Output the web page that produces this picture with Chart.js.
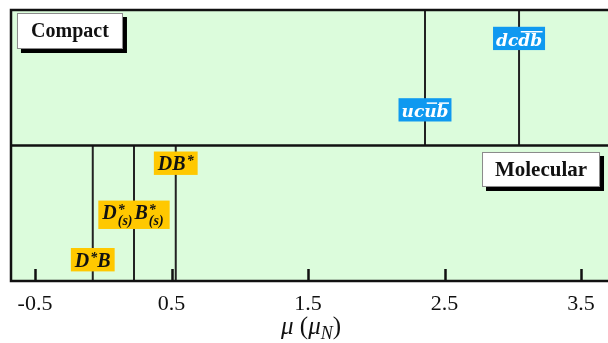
<!DOCTYPE html>
<html lang="en">
<head>
    <meta charset="UTF-8">
    <title>Magnetic moments</title>
    <script src="https://cdn.jsdelivr.net/npm/chart.js"></script>
    <style>
        html, body { margin: 0; padding: 0; overflow: hidden; background: #fff; }
        #wrap { width: 620px; height: 343px; }
    </style>
</head>
<body>
    <div id="wrap"><canvas id="mu-chart" width="620" height="343"></canvas></div>

    <script>
        // values (magnetic moment in nuclear magnetons)
        const tickValues = [-0.5, 0.5, 1.5, 2.5, 3.5];
        const compactMu = [2.357, 3.046];
        const compactNames = ['ucub', 'dcdb'];
        const molecularMu = [-0.077, 0.225, 0.531];
        const molecularNames = ['D*B', 'DsBs', 'DB*'];

        const serif = '"Liberation Serif", "Times New Roman", serif';
        const mathSerif = '"DejaVu Serif", serif';
        const green = '#dcfcdc';
        const blue = '#0f99f0';
        const gold = '#ffc800';

        // tag looks: font, box extents and script offsets in em
        const quarkStyle = { bg: blue, fg: '#fff', family: mathSerif, size: 17, padX: 3,
                             up: 0.75, down: 0.62, base: 0.38, over: 0.84, supUp: 0.42, subDown: 0.32, small: 0.68 };
        const mesonStyle = { bg: gold, fg: '#111', family: serif, size: 20, padX: 4,
                             up: 0.6, down: 0.57, base: 0.33, over: 0.8, supUp: 0.24, subDown: 0.3, small: 0.72 };

        // how each tag is drawn: rich-text pieces and where it sits (y in panel units)
        const tags = {
            'ucub': { y: 1.255, st: quarkStyle,
                      segs: [{ t: 'uc' }, { t: 'u', over: true }, { t: 'b', over: true }] },
            'dcdb': { y: 1.782, st: quarkStyle,
                      segs: [{ t: 'dc' }, { t: 'db', over: true }] },
            'D*B':  { y: 0.155, st: mesonStyle,
                      segs: [{ t: 'D' }, { sup: '*' }, { t: 'B' }] },
            'DsBs': { y: 0.505, st: mesonStyle, sub: true,
                      segs: [{ t: 'D' }, { sup: '*', sub: '(s)' }, { t: 'B' }, { sup: '*', sub: '(s)' }] },
            'DB*':  { y: 0.867, st: mesonStyle,
                      segs: [{ t: 'DB' }, { sup: '*' }] }
        };

        const panels = [
            { text: 'Compact', x: -0.244, y: 1.845, w: 106, h: 36, size: 20 },
            { text: 'Molecular', x: 3.207, y: 0.823, w: 118, h: 35, size: 21 }
        ];

        function segWidth(ctx, s, st) {
            if (s.t !== undefined) {
                ctx.font = `bold italic ${st.size}px ${st.family}`;
                return ctx.measureText(s.t).width;
            }
            ctx.font = `bold italic ${Math.round(st.size * st.small)}px ${st.family}`;
            const a = s.sup ? ctx.measureText(s.sup).width : 0;
            const b = s.sub ? ctx.measureText(s.sub).width : 0;
            return Math.max(a, b) + (s.sub ? 3 : 1);
        }

        function drawTag(ctx, tag, cx, cy) {
            const st = tag.st, size = st.size;
            const widths = tag.segs.map(s => segWidth(ctx, s, st));
            const total = widths.reduce((p, q) => p + q, 0);
            const top = cy - size * st.up;
            const bottom = cy + size * st.down + (tag.sub ? size * 0.25 : 0);
            ctx.fillStyle = st.bg;
            ctx.fillRect(cx - total / 2 - st.padX, top, total + 2 * st.padX, bottom - top);

            const base = cy + size * st.base;
            let x = cx - total / 2;
            ctx.fillStyle = st.fg;
            ctx.strokeStyle = st.fg;
            ctx.textBaseline = 'alphabetic';
            ctx.textAlign = 'left';
            tag.segs.forEach((s, i) => {
                if (s.t !== undefined) {
                    ctx.font = `bold italic ${size}px ${st.family}`;
                    ctx.fillText(s.t, x, base);
                    if (s.over) {
                        ctx.lineWidth = 1.5;
                        ctx.beginPath();
                        ctx.moveTo(x + 2.5, base - size * st.over);
                        ctx.lineTo(x + widths[i] + 0.5, base - size * st.over);
                        ctx.stroke();
                    }
                } else {
                    ctx.font = `bold italic ${Math.round(size * st.small)}px ${st.family}`;
                    if (s.sup) ctx.fillText(s.sup, x + 1, base - size * st.supUp);
                    if (s.sub) ctx.fillText(s.sub, x + 1, base + size * st.subDown);
                }
                x += widths[i];
            });
        }

        const decorations = {
            id: 'decorations',
            beforeDatasetsDraw(chart) {
                const { ctx, chartArea: a } = chart;
                ctx.save();
                ctx.fillStyle = green;
                ctx.fillRect(a.left, a.top, a.right - a.left, a.bottom - a.top);
                ctx.restore();
            },
            afterDatasetsDraw(chart) {
                const { ctx, chartArea: a, scales } = chart;
                const xs = scales.x, ys = scales.y;
                ctx.save();

                // frame and panel divider
                ctx.strokeStyle = '#111';
                ctx.lineWidth = 2.5;
                ctx.beginPath();
                ctx.moveTo(a.right + 5, a.top);
                ctx.lineTo(a.left, a.top);
                ctx.lineTo(a.left, a.bottom);
                ctx.lineTo(a.right + 5, a.bottom);
                const mid = ys.getPixelForValue(1);
                ctx.moveTo(a.left, mid);
                ctx.lineTo(a.right + 5, mid);
                ctx.stroke();

                // inward tick marks along the bottom
                ctx.lineWidth = 2.5;
                ctx.beginPath();
                tickValues.forEach(v => {
                    const px = Math.round(xs.getPixelForValue(v)) + 0.5;
                    ctx.moveTo(px, a.bottom);
                    ctx.lineTo(px, a.bottom - 12);
                });
                ctx.stroke();

                // tags on the lines
                compactMu.forEach((v, i) => {
                    const t = tags[compactNames[i]];
                    drawTag(ctx, t, xs.getPixelForValue(v), ys.getPixelForValue(t.y));
                });
                molecularMu.forEach((v, i) => {
                    const t = tags[molecularNames[i]];
                    drawTag(ctx, t, xs.getPixelForValue(v), ys.getPixelForValue(t.y));
                });

                // panel name boxes with drop shadow
                panels.forEach(p => {
                    const cx = xs.getPixelForValue(p.x), cy = ys.getPixelForValue(p.y);
                    const l = cx - p.w / 2, t = cy - p.h / 2;
                    ctx.fillStyle = '#000';
                    ctx.fillRect(l + 4, t + 4, p.w, p.h);
                    ctx.fillStyle = '#fff';
                    ctx.fillRect(l, t, p.w, p.h);
                    ctx.strokeStyle = '#8a8a8a';
                    ctx.lineWidth = 1;
                    ctx.strokeRect(l + 0.5, t + 0.5, p.w - 1, p.h - 1);
                    ctx.fillStyle = '#111';
                    ctx.font = `bold ${p.size}px ${serif}`;
                    ctx.textAlign = 'center';
                    ctx.textBaseline = 'middle';
                    ctx.fillText(p.text, cx, cy + 1);
                });

                // axis title: mu (mu_N)
                const size = 25;
                const parts = [
                    { t: 'μ', f: `italic ${size}px ${serif}`, dy: 0 },
                    { t: ' (', f: `${size}px ${serif}`, dy: 0 },
                    { t: 'μ', f: `italic ${size}px ${serif}`, dy: 0 },
                    { t: 'N', f: `italic ${Math.round(size * 0.7)}px ${serif}`, dy: 5 },
                    { t: ')', f: `${size}px ${serif}`, dy: 0 }
                ];
                const ws = parts.map(p => { ctx.font = p.f; return ctx.measureText(p.t).width; });
                let x = xs.getPixelForValue(1.5) + 3 - ws.reduce((p, q) => p + q, 0) / 2;
                ctx.fillStyle = '#111';
                ctx.textAlign = 'left';
                ctx.textBaseline = 'alphabetic';
                parts.forEach((p, i) => {
                    ctx.font = p.f;
                    ctx.fillText(p.t, x, 334 + p.dy);
                    x += ws[i];
                });
                ctx.restore();
            }
        };

        const lineStyle = { showLine: true, borderColor: '#222', borderWidth: 2, pointRadius: 0, fill: false };
        const datasets = [];
        compactMu.forEach((v, i) => datasets.push({
            label: compactNames[i], data: [{ x: v, y: 1 }, { x: v, y: 2 }], ...lineStyle
        }));
        molecularMu.forEach((v, i) => datasets.push({
            label: molecularNames[i], data: [{ x: v, y: 0 }, { x: v, y: 1 }], ...lineStyle
        }));

        new Chart(document.getElementById('mu-chart'), {
            type: 'scatter',
            data: { datasets: datasets },
            options: {
                responsive: false,
                animation: false,
                layout: { padding: { left: 11, top: 10, right: 2, bottom: 0 } },
                plugins: { legend: { display: false }, tooltip: { enabled: false } },
                scales: {
                    x: {
                        type: 'linear',
                        min: -0.676,
                        max: 3.771,
                        afterBuildTicks: scale => { scale.ticks = tickValues.map(v => ({ value: v })); },
                        afterFit: scale => { scale.height = 62; },
                        grid: { display: false },
                        border: { display: false },
                        ticks: {
                            font: { family: serif, size: 22 },
                            color: '#111',
                            padding: 2,
                            maxRotation: 0,
                            callback: v => v.toFixed(1)
                        }
                    },
                    y: { display: false, min: 0, max: 2 }
                }
            },
            plugins: [decorations]
        });
    </script>
</body>
</html>
